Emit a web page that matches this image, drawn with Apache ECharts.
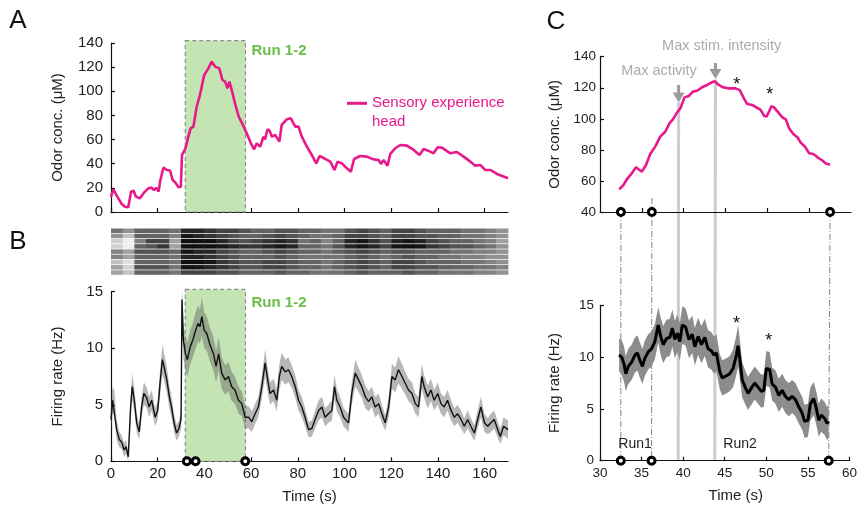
<!DOCTYPE html>
<html><head><meta charset="utf-8">
<script src="https://cdn.jsdelivr.net/npm/echarts@6/dist/echarts.min.js"></script>
<style>html,body{margin:0;padding:0;background:#fff}#c{width:860px;height:509px}</style>
</head><body><div id="c"></div>
<script>
// ---------- DATA ----------
// Panel A: odor concentration over the whole trial
const aT=[0,1,2.7,4.6,6,7.4,8.6,9.6,10.7,12.4,14.1,16,17.4,18.4,19.3,20.4,21,22.4,23.9,25.3,26.4,27.6,28.9,29.9,30.4,31.9,33.1,34.1,35.3,36.7,38.1,39.9,41.7,43.1,44.6,46.4,47.7,48.9,49.9,50.7,51.7,53.1,54.7,56.7,58.1,59.9,61.3,62.4,63.9,65.3,66,67,67.9,68.9,70.3,72.1,73.1,75.3,77,78.9,80.3,81.7,83.9,86,87.9,89.3,91.3,93.9,95.7,97,98.9,101,102.7,104.1,106.7,109.6,112.4,114.6,115.6,116.7,118.4,119.6,121.7,123.9,126.7,129.6,132.1,133.9,136.7,138.1,139.9,141.7,145.3,148.1,151,153.9,156,158.1,160.3,162.4,165.3,170];
const aConc=[12.7,18.8,12.7,6.6,4.4,3.9,16.9,17.7,12.7,11.3,16,19.6,20.2,18.2,20,16.9,25,36.7,34.8,34.3,26.5,24.3,20.4,21,47.2,52.8,62.4,69.3,70.7,87.3,97,113.5,119,124.6,120.4,119,109.4,108,102.5,108,101.1,90,79,71.3,65.2,56.9,51.9,56.9,54.1,62.4,60.2,68.5,67.4,62.4,63.8,58.3,72.1,76.8,77.6,70.7,70.7,62.4,54.1,47.2,40.3,46.4,44.5,41.7,34.8,41.7,40.3,36.2,33.4,43.9,46.4,45.9,43.6,43.1,39.8,43.1,38.4,48.1,52.8,55.5,55,51.4,47.2,52.2,50,48.6,53.6,53.3,48.6,49.7,45.9,41.7,38.4,39,34.8,34.8,31.5,27.9];

// Panel B: mean firing rate and its band half-width
const bT=[0,0.7,1.4,2.4,3.6,4.6,5.6,6.4,7.4,8.4,9.1,10,11,12.1,13.1,14.1,15.3,16.3,17.4,18.9,20,21,22,22.9,23.9,25,26,27,28.1,29.1,30,30.4,31,31.9,32.7,33.9,35,36.1,37.3,38.1,38.9,39.9,41,42.4,43.9,45,46.1,47.4,48.9,50.3,51.7,53.1,54.6,56,57.4,58.9,60.3,61.7,63.1,64.6,66,67.1,68.1,69.6,71,72.1,73.1,74.6,76,77.4,78.9,80.3,81.7,83.1,84.6,86,87.4,88.9,90.3,91.7,93.1,94.6,95.7,96.7,98.1,99.6,101.7,103.1,104.6,106,107.4,108.9,110.3,111.7,113.1,114.6,116,117.4,118.9,120.3,121.7,123.1,124.6,126,127.4,128.9,130.3,131.7,133.1,134.1,135.6,137,138.4,139.9,141.3,142.7,144.1,145.6,147,148.4,149.9,151.3,152.7,154.1,155.6,157,158.4,159.9,161.3,162.7,164.1,165.6,166.7,168.1,170];
const bRate=[3.7,5.4,5.3,2.8,1.9,1.7,1,1.3,0.4,4.8,6.6,5.4,3.4,2.6,4.8,6,5.6,4.8,5.4,3.9,4.5,6.9,9,8.2,7.2,5.7,4.7,3.4,2.5,2.9,3.7,14.3,10.7,9.5,9,10.1,10.7,11.5,12.2,11.9,12.8,11.6,11.3,10.3,9.5,8.4,9.5,7.8,7.2,7.5,6.6,6.3,5.4,5.1,3.9,3.9,3.5,4.2,4.8,6.6,8.7,7.2,6,6.3,5.4,7.5,8.4,7.9,8.1,7.5,6.6,5.4,4.8,3.9,2.8,2.9,3.7,4.5,4.8,3.9,4.2,4.5,6.6,5.4,4.8,3.9,3.4,6,7.8,7.2,6.6,5.7,5.3,5.7,4.8,5.1,4.2,3.4,4.8,7.5,7.2,8.1,7.5,6.9,6.3,6,5.1,4.8,7.5,6.6,5.7,6.3,5.4,6,5.1,4.8,5.4,4.5,3.9,4.2,3.7,3.1,3.7,3.1,2.5,3.7,4.8,3.4,3.1,3.4,3.7,2.8,2.2,3.1,2.8];
const bSem=[1.2,1.2,1.0,0.9,0.7,0.6,0.6,0.6,0.5,0.9,1.2,1.0,0.8,0.7,0.9,1.0,0.9,0.9,0.9,0.8,0.8,1.1,1.3,1.2,1.1,1.0,0.9,0.8,0.7,0.7,0.8,1.5,1.6,1.5,1.5,1.5,1.5,1.6,1.6,1.5,1.7,1.6,1.5,1.5,1.5,1.4,1.5,1.4,1.3,1.3,1.3,1.2,1.2,1.1,1.0,1.0,0.9,0.9,0.9,1.0,1.2,1.1,1.0,1.0,1.0,1.1,1.2,1.1,1.1,1.0,1.0,0.9,0.9,0.8,0.7,0.7,0.8,0.9,0.9,0.8,0.8,0.9,1.1,1.0,0.9,0.8,0.8,1.0,1.2,1.1,1.0,1.0,0.9,0.9,0.9,0.9,0.8,0.7,0.9,1.1,1.1,1.2,1.1,1.0,1.0,1.0,0.9,0.9,1.1,1.0,1.0,1.0,0.9,1.0,0.9,0.9,0.9,0.9,0.8,0.8,0.8,0.7,0.8,0.7,0.7,0.8,0.9,0.8,0.7,0.8,0.8,0.7,0.7,0.8,0.8];

// Raster: 9 trials, spike density per 5 s bin (0 = none, 1 = dense)
const rasterBin=5;
const rasterRows=[
 [0.45,0.35,0.5,0.5,0.5,0.45,0.7,0.7,0.65,0.6,0.6,0.55,0.5,0.5,0.55,0.55,0.5,0.5,0.45,0.45,0.55,0.6,0.55,0.5,0.6,0.6,0.55,0.5,0.5,0.5,0.45,0.45,0.4,0.35],
 [0.35,0.2,0.5,0.5,0.5,0.4,0.75,0.7,0.65,0.6,0.55,0.5,0.5,0.55,0.6,0.55,0.5,0.45,0.45,0.5,0.6,0.6,0.55,0.5,0.6,0.6,0.55,0.55,0.5,0.5,0.45,0.45,0.4,0.35],
 [0.15,0.05,0.4,0.6,0.6,0.3,0.85,0.85,0.8,0.7,0.6,0.55,0.6,0.65,0.7,0.65,0.45,0.5,0.4,0.5,0.7,0.75,0.65,0.55,0.7,0.75,0.7,0.6,0.55,0.5,0.5,0.45,0.4,0.3],
 [0.15,0.05,0.5,0.55,0.65,0.3,0.9,0.9,0.85,0.75,0.7,0.65,0.65,0.7,0.75,0.7,0.5,0.5,0.45,0.55,0.7,0.75,0.7,0.6,0.75,0.8,0.75,0.65,0.6,0.55,0.55,0.5,0.45,0.35],
 [0.4,0.3,0.55,0.55,0.55,0.5,0.75,0.7,0.7,0.6,0.55,0.5,0.5,0.55,0.6,0.55,0.5,0.5,0.45,0.5,0.55,0.6,0.55,0.5,0.55,0.55,0.5,0.5,0.5,0.45,0.45,0.4,0.4,0.35],
 [0.4,0.3,0.5,0.5,0.5,0.45,0.7,0.7,0.65,0.6,0.55,0.5,0.5,0.5,0.55,0.5,0.45,0.45,0.45,0.45,0.5,0.55,0.5,0.45,0.5,0.55,0.5,0.5,0.45,0.45,0.4,0.4,0.35,0.35],
 [0.2,0.1,0.5,0.5,0.5,0.45,0.8,0.8,0.75,0.65,0.6,0.55,0.55,0.6,0.6,0.55,0.5,0.5,0.45,0.5,0.55,0.6,0.55,0.5,0.6,0.6,0.55,0.5,0.5,0.5,0.45,0.45,0.4,0.35],
 [0.3,0.15,0.55,0.55,0.55,0.45,0.75,0.75,0.7,0.65,0.6,0.55,0.55,0.6,0.6,0.55,0.5,0.5,0.45,0.5,0.55,0.6,0.55,0.5,0.6,0.6,0.55,0.55,0.5,0.5,0.5,0.45,0.45,0.4],
 [0.3,0.2,0.5,0.5,0.5,0.45,0.6,0.6,0.6,0.55,0.55,0.5,0.5,0.5,0.55,0.5,0.5,0.45,0.45,0.45,0.5,0.55,0.5,0.5,0.5,0.55,0.5,0.5,0.45,0.45,0.45,0.4,0.4,0.35]
];

// Panel C top: odor concentration during runs
const ctT=[32.3,32.8,33.3,33.8,34.3,34.6,35,35.5,36,36.6,37.2,37.8,38.3,38.8,39.2,39.6,40.1,40.6,41.1,41.6,42.2,42.8,43.3,43.7,44.2,44.7,45.4,46.2,46.7,47.2,47.6,48.2,48.7,49.2,49.6,49.9,50.2,50.5,50.8,51.4,51.8,52.2,52.6,53.1,53.6,54,54.5,55,55.5,56,56.5,57,57.5];
const ctConc=[54.6,57.4,61.7,64.9,68.8,67.5,66,70.3,77.3,82.1,88.5,91.7,97.1,100.3,104,106.7,113.8,114.7,117.5,118.1,120.3,121.8,123.3,124.3,121.8,120.3,119.6,119.6,118.5,113.2,109.5,108.9,107.4,105.7,102,101.4,104.6,108.2,107.4,103.5,100.9,99.7,93.9,90.2,88.1,84.6,82.1,77.8,77.3,75.2,73.5,71.3,70.5];

// Panel C bottom: firing rate during runs
const cT=[32.3,32.6,32.9,33.1,33.4,33.8,34.2,34.5,34.8,35.1,35.4,35.8,36.2,36.6,37,37.3,37.6,38,38.4,38.7,39,39.3,39.6,39.9,40.3,40.7,41.1,41.4,41.8,42.2,42.6,43,43.4,43.7,44,44.4,44.7,45.2,45.6,46,46.4,46.6,46.8,47.1,47.5,47.8,48.2,48.6,49,49.4,49.7,50,50.4,50.7,51.1,51.5,51.9,52.3,52.7,53.1,53.5,53.9,54.3,54.6,55,55.3,55.7,56,56.3,56.6,57,57.3,57.5];
const cRate=[10.2,10,9.3,8.4,9.1,9.5,10.2,10.4,9.7,9.1,9.9,10.5,10.8,11.5,13.1,12,11.2,11.8,11.9,12.8,11.7,12.3,11.5,13.1,12.9,11.7,12.2,11,12,11.2,11.9,10.8,10.6,10.2,10.4,8.6,8,8.2,8.4,8.9,10.2,11.1,9.9,7.8,7,6.5,7,7.5,7.1,6.7,6.8,8.9,8.8,7.4,7.1,6.3,6.8,6.2,5.9,6.2,5.9,5.2,4.6,3.8,3.9,5.5,6,5.1,3.9,4.4,4.1,3.6,3.8];
const cSem=[1.6,1.7,1.7,1.7,1.7,1.7,1.7,1.7,1.7,1.7,1.7,1.7,1.7,1.7,1.7,1.8,1.8,1.8,1.8,1.8,1.8,1.8,1.8,1.8,1.8,1.8,1.8,1.8,1.8,1.8,1.8,1.8,1.8,1.8,1.8,1.7,1.7,1.7,1.7,1.8,1.9,2.0,1.9,1.7,1.6,1.6,1.6,1.6,1.6,1.6,1.6,1.7,1.7,1.6,1.6,1.6,1.6,1.6,1.6,1.6,1.6,1.6,1.6,1.6,1.6,1.6,1.6,1.6,1.6,1.6,1.6,1.6,1.6];

// Annotations
const runWindow=[31.8,57.6];        // shaded "Run 1-2" window (s)
const runWindowTopA=142, runWindowTopB=15.2;
const runMarks=[32.5,36.2,57.5];    // open circles (s)
const runLineTops=[40,49,40];       // where the dash-dot guide lines start in the top C panel
const maxMarks=[{t:39.4, top:110.5},{t:43.8, top:125.3}];   // grey vertical lines
const arrowMarks=[{t:39.4, from:121.8, to:110.5},{t:43.8, from:135.9, to:125.6}];
const cTopStars=[[46.35,125],[50.3,118.6]];
const cBotStars=[[46.4,13.7],[50.3,12.0]];
const xTicksAB=[0,20,40,60,80,100,120,140,160];
const xTicksCtop=[35,40,45,50,55];

// ---------- CHART ----------
const FONT='"Liberation Sans", Arial, sans-serif';
const PINK='#e8198b', GREEN_FILL='#c4e4b4', GREEN_TXT='#6abf45', AX='#111';
const chart=echarts.init(document.getElementById('c'),null,{renderer:'canvas'});

const axLine={show:true,onZero:false,lineStyle:{color:AX,width:1.2}};
const axTick={show:true,inside:true,length:4,lineStyle:{color:AX,width:1.2}};
function yAx(grid,min,max,interval,fs,margin,name,nameGap){
  return {type:'value',gridIndex:grid,min,max,interval,name,nameLocation:'middle',nameGap,nameRotate:90,
    nameTextStyle:{fontSize:15,color:'#222',fontFamily:FONT},
    axisLine:axLine,axisTick:axTick,splitLine:{show:false},
    axisLabel:{fontSize:fs,color:'#222',fontFamily:FONT,margin}};
}
function xAx(grid,min,max,o){
  return Object.assign({type:'value',gridIndex:grid,min,max,axisLine:axLine,splitLine:{show:false}},o);
}
// band between mean-sem and mean+sem, drawn as one polygon through the axis scales
function bandSeries(xi,yi,T,M,S,color,z){
  return {type:'custom',xAxisIndex:xi,yAxisIndex:yi,z,clip:true,silent:true,
    data:T.map((t,i)=>[t,Math.max(0,M[i]-S[i]),M[i]+S[i]]),
    renderItem:(p,api)=>{
      if(p.dataIndex!==0) return null;
      const up=[],lo=[];
      for(let i=0;i<T.length;i++){
        up.push(api.coord([T[i],M[i]+S[i]]));
        lo.push(api.coord([T[i],Math.max(0,M[i]-S[i])]));
      }
      return {type:'polygon',shape:{points:up.concat(lo.reverse())},style:{fill:color}};
    }};
}
function windowSeries(xi,yi,top){
  return {type:'custom',xAxisIndex:xi,yAxisIndex:yi,z:1,clip:false,silent:true,
    data:[[runWindow[0],0,runWindow[1],top]],
    renderItem:(p,api)=>{
      const a=api.coord([api.value(0),api.value(1)]);
      const b=api.coord([api.value(2),api.value(3)]);
      return {type:'rect',shape:{x:a[0],y:b[1],width:b[0]-a[0],height:a[1]-b[1]},
        style:{fill:GREEN_FILL,stroke:'#8c8c8c',lineWidth:1.2,lineDash:[4,3]}};
    }};
}
const rasterData=[];
rasterRows.forEach((row,r)=>row.forEach((d,k)=>rasterData.push([k*rasterBin,r,d])));
function circles(xi,yi,y){
  return {type:'scatter',xAxisIndex:xi,yAxisIndex:yi,data:runMarks.map(t=>[t,y]),symbol:'circle',symbolSize:7,
    itemStyle:{color:'#fff',borderColor:'#000',borderWidth:3,opacity:1},clip:false,z:10,silent:true};
}

const option={
  animation:false,
  backgroundColor:'#fff',
  grid:[
    {left:111,top:43,width:397,height:169},
    {left:111,top:228.5,width:397,height:47},
    {left:111,top:291.7,width:397,height:169.6},
    {left:600,top:56.7,width:251,height:155.3},
    {left:600,top:305.3,width:251,height:155.4}
  ],
  xAxis:[
    xAx(0,0,170,{axisTick:Object.assign({customValues:xTicksAB},axTick),axisLabel:{show:false}}),
    xAx(1,0,170,{show:false}),
    xAx(2,0,170,{axisTick:Object.assign({customValues:xTicksAB},axTick),
      axisLabel:{customValues:xTicksAB,fontSize:15,color:'#222',fontFamily:FONT,margin:5},
      name:'Time (s)',nameLocation:'middle',nameGap:28,nameTextStyle:{fontSize:15,color:'#222',fontFamily:FONT}}),
    xAx(3,30,60,{axisTick:Object.assign({customValues:xTicksCtop},axTick),axisLabel:{show:false}}),
    xAx(4,30,60,{interval:5,axisTick:axTick,
      axisLabel:{fontSize:13.5,color:'#222',fontFamily:FONT,margin:6},
      name:'Time (s)',nameLocation:'middle',nameGap:28,nameTextStyle:{fontSize:15,color:'#222',fontFamily:FONT,padding:[0,0,0,22]}})
  ],
  yAxis:[
    yAx(0,0,140,20,15,8,'Odor conc. (\u03bcM)',46),
    {type:'value',gridIndex:1,min:0,max:9,inverse:true,show:false},
    yAx(2,0,15,5,15,8,'Firing rate (Hz)',46),
    yAx(3,40,140,20,13.5,4,'Odor conc. (\u03bcM)',37.5),
    yAx(4,0,15,5,13.5,6,'Firing rate (Hz)',37.5)
  ],
  series:[
    windowSeries(0,0,runWindowTopA),
    {type:'line',xAxisIndex:0,yAxisIndex:0,symbol:'none',silent:true,z:3,
     lineStyle:{color:PINK,width:2.6},data:aT.map((t,i)=>[t,aConc[i]])},
    {type:'custom',xAxisIndex:1,yAxisIndex:1,silent:true,data:rasterData,
     renderItem:(p,api)=>{
       const t0=api.value(0),r=api.value(1),d=api.value(2);
       const a=api.coord([t0,r]),b=api.coord([t0+rasterBin,r+0.86]);
       const v=Math.round(255-Math.min(1,d*1.3)*240);
       return {type:'rect',shape:{x:a[0],y:Math.min(a[1],b[1]),width:b[0]-a[0]+0.4,height:Math.abs(b[1]-a[1])},
         style:{fill:'rgb('+v+','+v+','+v+')'}};
     }},
    windowSeries(2,2,runWindowTopB),
    bandSeries(2,2,bT,bRate,bSem,'rgba(95,95,95,0.45)',2),
    {type:'line',xAxisIndex:2,yAxisIndex:2,symbol:'none',silent:true,z:3,
     lineStyle:{color:'#111',width:1.4},data:bT.map((t,i)=>[t,bRate[i]])},
    circles(2,2,0),
    {type:'line',xAxisIndex:3,yAxisIndex:3,symbol:'none',silent:true,z:3,
     lineStyle:{color:PINK,width:2.6},data:ctT.map((t,i)=>[t,ctConc[i]])},
    circles(3,3,40),
    bandSeries(4,4,cT,cRate,cSem,'#8c8c8c',2),
    {type:'line',xAxisIndex:4,yAxisIndex:4,symbol:'none',silent:true,z:3,
     lineStyle:{color:'#000',width:3},data:cT.map((t,i)=>[t,cRate[i]])},
    circles(4,4,0)
  ]
};
chart.setOption(option);

// ---------- annotations positioned through the chart's own scales ----------
const P3=(t,v)=>chart.convertToPixel({gridIndex:3},[t,v]);
const P4=(t,v)=>chart.convertToPixel({gridIndex:4},[t,v]);
const g=[];
maxMarks.forEach(m=>{
  const a=P3(m.t,m.top),b=P4(m.t,0);
  g.push({type:'line',z:-1,silent:true,shape:{x1:a[0],y1:a[1],x2:b[0],y2:b[1]},style:{stroke:'#cdcdcd',lineWidth:3}});
});
runMarks.forEach((t,i)=>{
  const a=P3(t,runLineTops[i]),b=P4(t,0);
  g.push({type:'line',z:-1,silent:true,shape:{x1:a[0],y1:a[1],x2:b[0],y2:b[1]},style:{stroke:'#666',lineWidth:0.8,lineDash:[6,2,1,2]}});
});
arrowMarks.forEach(m=>{
  const a=P3(m.t,m.from),b=P3(m.t,m.to);
  g.push({type:'line',z:20,silent:true,shape:{x1:a[0],y1:a[1],x2:b[0],y2:b[1]-8},style:{stroke:'#9b9b9b',lineWidth:3}});
  g.push({type:'polygon',z:20,silent:true,shape:{points:[[b[0],b[1]],[b[0]-6,b[1]-10],[b[0]+6,b[1]-10]]},style:{fill:'#9b9b9b'}});
});
function txt(x,y,text,o){
  return {type:'text',z:30,silent:true,x,y,style:Object.assign({text,fontFamily:FONT,fontSize:15,fill:'#222',align:'left',verticalAlign:'middle'},o)};
}
cTopStars.forEach(s=>{const p=P3(s[0],s[1]); g.push(txt(p[0],p[1]+5,'*',{fontSize:18,align:'center',fill:'#111'}));});
cBotStars.forEach(s=>{const p=P4(s[0],s[1]); g.push(txt(p[0],p[1]+5,'*',{fontSize:18,align:'center',fill:'#111'}));});
g.push(txt(18,21,'A',{fontSize:26,align:'center',fill:'#111'}));
g.push(txt(18,242,'B',{fontSize:26,align:'center',fill:'#111'}));
g.push(txt(556,22,'C',{fontSize:26,align:'center',fill:'#111'}));
g.push(txt(251.5,50.7,'Run 1-2',{fontWeight:'bold',fill:GREEN_TXT}));
g.push(txt(251.5,302.7,'Run 1-2',{fontWeight:'bold',fill:GREEN_TXT}));
g.push({type:'line',z:30,silent:true,shape:{x1:347,y1:103.3,x2:367,y2:103.3},style:{stroke:PINK,lineWidth:3}});
g.push(txt(372,103.3,'Sensory experience',{fill:PINK}));
g.push(txt(372,121.7,'head',{fill:PINK}));
g.push(txt(721.7,45.7,'Max stim. intensity',{fontSize:14.5,align:'center',fill:'#ababab'}));
g.push(txt(659,71,'Max activity',{fontSize:14.5,align:'center',fill:'#ababab'}));
g.push(txt(635,444,'Run1',{fontSize:14,align:'center'}));
g.push(txt(740,444,'Run2',{fontSize:14,align:'center'}));
chart.setOption({graphic:{elements:g}});
</script>
</body></html>
